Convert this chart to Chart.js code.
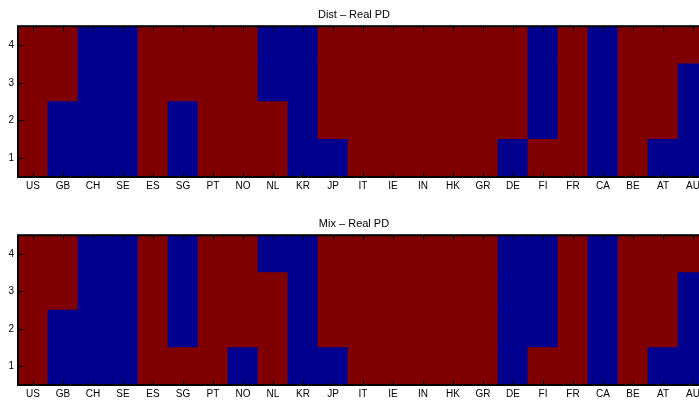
<!DOCTYPE html>
<html lang="en">
<head>
    <meta charset="UTF-8">
    <title>Dist / Mix - Real PD</title>
    <script src="https://cdn.jsdelivr.net/npm/chart.js@4/dist/chart.umd.min.js"></script>
    <style>
        html, body { margin: 0; padding: 0; background: #fff; overflow: hidden; }
        .wrap { width: 712px; position: relative; }
    </style>
</head>
<body>
    <div class="wrap" style="height:200px"><canvas id="distChart"></canvas></div>
    <div class="wrap" style="height:203px"><canvas id="mixChart"></canvas></div>

    <script>
        // countries along the x axis
        const countries = ['US', 'GB', 'CH', 'SE', 'ES', 'SG', 'PT', 'NO', 'NL', 'KR', 'JP', 'IT',
                           'IE', 'IN', 'HK', 'GR', 'DE', 'FI', 'FR', 'CA', 'BE', 'AT', 'AU'];
        const yTicks = [1, 2, 3, 4];

        // 1 = blue cell, 0 = red cell ; row 1 is the bottom row
        const distRow1 = [0, 1, 1, 1, 0, 1, 0, 0, 0, 1, 1, 0, 0, 0, 0, 0, 1, 0, 0, 1, 0, 1, 1];
        const distRow2 = [0, 1, 1, 1, 0, 1, 0, 0, 0, 1, 0, 0, 0, 0, 0, 0, 0, 1, 0, 1, 0, 0, 1];
        const distRow3 = [0, 0, 1, 1, 0, 0, 0, 0, 1, 1, 0, 0, 0, 0, 0, 0, 0, 1, 0, 1, 0, 0, 1];
        const distRow4 = [0, 0, 1, 1, 0, 0, 0, 0, 1, 1, 0, 0, 0, 0, 0, 0, 0, 1, 0, 1, 0, 0, 0];

        const mixRow1 = [0, 1, 1, 1, 0, 0, 0, 1, 0, 1, 1, 0, 0, 0, 0, 0, 1, 0, 0, 1, 0, 1, 1];
        const mixRow2 = [0, 1, 1, 1, 0, 1, 0, 0, 0, 1, 0, 0, 0, 0, 0, 0, 1, 1, 0, 1, 0, 0, 1];
        const mixRow3 = [0, 0, 1, 1, 0, 1, 0, 0, 0, 1, 0, 0, 0, 0, 0, 0, 1, 1, 0, 1, 0, 0, 1];
        const mixRow4 = [0, 0, 1, 1, 0, 1, 0, 0, 1, 1, 0, 0, 0, 0, 0, 0, 1, 1, 0, 1, 0, 0, 0];

        const RED = '#800000';
        const BLUE = '#00008f';
        const FONT = "'Liberation Sans', Arial, Helvetica, sans-serif";

        // box + inward ticks, matlab style
        const boxPlugin = {
            id: 'box',
            afterDraw(chart) {
                const { ctx, chartArea: a, scales } = chart;
                ctx.save();
                ctx.fillStyle = '#000';
                scales.x.ticks.forEach((t, i) => {
                    const x = Math.round(scales.x.getPixelForTick(i));
                    ctx.fillRect(x, a.top, 1, 5);
                    ctx.fillRect(x, a.bottom - 5, 1, 5);
                });
                yTicks.forEach(v => {
                    const y = Math.round(scales.y.getPixelForValue(v));
                    ctx.fillRect(a.left, y, 6, 1);
                    ctx.fillRect(a.right - 6, y, 6, 1);
                });
                ctx.strokeStyle = '#000';
                ctx.lineWidth = 2;
                ctx.strokeRect(a.left, a.top, a.right - a.left, a.bottom - a.top);
                ctx.restore();
            }
        };

        function makeChart(id, title, rows, titleTop, xHeight) {
            const datasets = rows.map((row, r) => ({
                data: countries.map(() => [r + 0.5, r + 1.5]),
                backgroundColor: row.map(v => v ? BLUE : RED),
                borderWidth: 0,
                barPercentage: 1,
                categoryPercentage: 1,
                grouped: false
            }));
            return new Chart(document.getElementById(id), {
                type: 'bar',
                data: { labels: countries, datasets: datasets },
                options: {
                    responsive: true,
                    maintainAspectRatio: false,
                    animation: false,
                    layout: { padding: { left: 0, right: 4, top: 0, bottom: 0 } },
                    plugins: {
                        legend: { display: false },
                        tooltip: { enabled: false },
                        title: {
                            display: true,
                            text: title,
                            color: '#000',
                            font: { family: FONT, size: 11, weight: 'normal' },
                            padding: { top: titleTop, bottom: 5 }
                        }
                    },
                    scales: {
                        x: {
                            grid: { display: false, drawTicks: false, tickLength: 0 },
                            border: { display: false },
                            ticks: { color: '#000', font: { family: FONT, size: 10 }, padding: 3, maxRotation: 0, autoSkip: false },
                            afterFit(s) { s.height = xHeight; }
                        },
                        y: {
                            min: 0.5,
                            max: 4.5,
                            afterBuildTicks(s) { s.ticks = yTicks.map(v => ({ value: v })); },
                            grid: { display: false, drawTicks: false, tickLength: 0 },
                            border: { display: false },
                            ticks: { color: '#000', font: { family: FONT, size: 10 }, padding: 4 },
                            afterFit(s) { s.width = 18; }
                        }
                    }
                },
                plugins: [boxPlugin]
            });
        }

        makeChart('distChart', 'Dist \u2013 Real PD', [distRow1, distRow2, distRow3, distRow4], 8, 23);
        makeChart('mixChart', 'Mix \u2013 Real PD', [mixRow1, mixRow2, mixRow3, mixRow4], 17, 18);
    </script>
</body>
</html>
